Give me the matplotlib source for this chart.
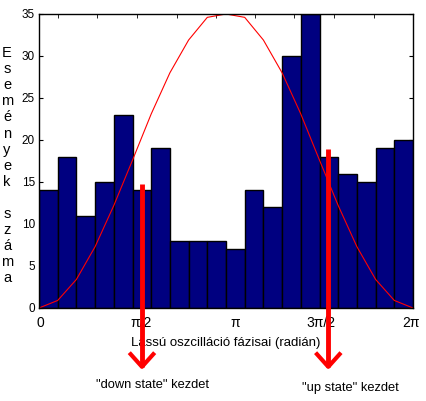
import numpy as np
import matplotlib.pyplot as plt

plt.rcParams['font.family'] = ['Liberation Sans', 'DejaVu Sans']

# event counts per phase bin (20 bins over 0..2pi)
counts = [14, 18, 11, 15, 23, 14, 19, 8, 8, 8, 7, 14, 12, 30, 35, 18, 16, 15, 19, 20]
# reference cosine drawn over the histogram, read at the bin edges
curve = [0, 0.9, 3.4, 7.3, 12.2, 17.6, 23.1, 28.0, 31.9, 34.6, 35.0,
         34.6, 31.9, 28.0, 23.1, 17.6, 12.2, 7.3, 3.4, 0.9, 0]

tick_labels = ['0', 'π/2', 'π', '3π/2', '2π']
label_pos = [0.03, 1.71, 3.29, 4.74, 6.25]
top_ticks = [0.32, 0.98, 1.65, 2.31, 2.97, 3.63, 4.29, 4.96, 5.62, 6.28]
y_ticks = [0, 5, 10, 15, 20, 25, 30, 35]

# arrows: phase where the state starts, top of shaft
down_x, down_top = 1.73, 14.8
up_x, up_top = 4.86, 18.9
tip_y = -7.0

fig = plt.figure(figsize=(4.26, 4.01), dpi=100)
ax = fig.add_axes([39/426, 1 - 308/401, 374/426, 294/401])

edges = np.linspace(0, 2*np.pi, len(counts) + 1)
ax.bar(edges[:-1], counts, width=np.diff(edges), align='edge',
       color='#000080', edgecolor='black', linewidth=1.0, zorder=2)
ax.plot(edges, curve, color='red', lw=0.8, zorder=3)

ax.set_xlim(0, 2*np.pi)
ax.set_ylim(0, 35)

ax.set_xticks(label_pos)
ax.set_xticklabels(tick_labels, fontsize=10)
ax.set_xticks(top_ticks, minor=True)
ax.tick_params(axis='x', which='major', length=0, pad=6)
ax.tick_params(axis='x', which='minor', bottom=False, top=True,
               direction='in', length=3)
ax.set_yticks(y_ticks)
ax.tick_params(axis='y', which='major', left=True, right=True,
               direction='in', length=3, labelsize=8.5, pad=3)
for s in ax.spines.values():
    s.set_linewidth(1.0)
    s.set_zorder(4)

ax.text(0.5, -0.12, 'Lassú oszcilláció fázisai (radián)', transform=ax.transAxes,
        ha='center', va='center', fontsize=9.5)

# vertical y label, one letter per line
letters = list('Események') + [''] + list('száma')
for i, ch in enumerate(letters):
    fig.text(7/426, 1 - (53 + i*16.1)/401, ch, ha='center', va='center', fontsize=10.5)

# red arrows pointing down, below the axis
hw, hl = 0.19, 1.5
for x, top in [(down_x, down_top), (up_x, up_top)]:
    ax.plot([x, x], [top, tip_y], color='red', lw=3.5, clip_on=False,
            solid_capstyle='butt', zorder=5)
    ax.plot([x - hw, x, x + hw], [tip_y + hl, tip_y, tip_y + hl], color='red',
            lw=3.0, clip_on=False, zorder=5)

fig.text(152/426, 1 - 385/401, '"down state" kezdet', ha='center', va='center', fontsize=9.3)
fig.text(350/426, 1 - 388/401, '"up state" kezdet', ha='center', va='center', fontsize=9.3)

fig.savefig('out.png', dpi=100)
